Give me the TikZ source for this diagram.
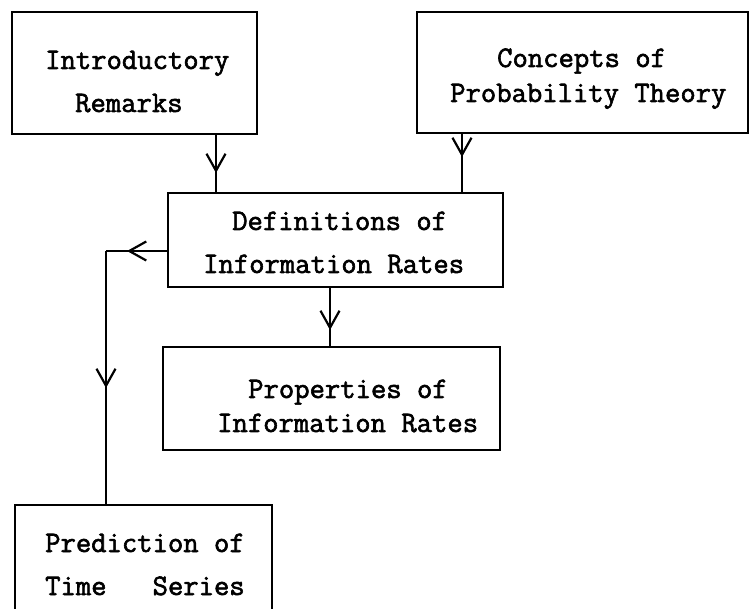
\documentclass[tikz,border=0pt]{standalone}
\usepackage{fontspec}
\setmonofont{Latin Modern Mono}[FakeBold=2]
\usetikzlibrary{arrows.meta,decorations.markings}
\tikzset{
  box/.style={draw, line width=2.2pt, inner sep=0pt, outer sep=0pt, rectangle},
  lbl/.style={anchor=base west, inner sep=0pt, font=\fontsize{29.8}{34}\selectfont\ttfamily},
  conn/.style={line width=2.2pt},
  tipat/.style={postaction={decorate}, decoration={markings,
     mark=at position #1 with {\arrow[line width=2.2pt]{Straight Barb[length=17pt,width=19pt]}}}}
}
\begin{document}
\begin{tikzpicture}[x=1pt,y=-1pt]
\useasboundingbox (0,0) rectangle (750,609);
\clip (0,0) rectangle (750,609);
% boxes
\node[box, minimum width=245pt, minimum height=122pt] (intro) at (134.5,73) {};
\node[box, minimum width=331pt, minimum height=121pt] (concepts) at (582.5,72.5) {};
\node[box, minimum width=335pt, minimum height=94pt] (defs) at (335.5,240) {};
\node[box, minimum width=337pt, minimum height=103pt] (props) at (331.5,398.5) {};
\node[box, minimum width=257pt, minimum height=135pt] (pred) at (143.5,572.5) {};
% texts
\node[lbl] (t1) at (45,69) {Introductory};
\node[lbl] (t2) at (75,112) {Remarks};
\node[lbl] (t3) at (497,67) {Concepts of};
\node[lbl] (t4) at (450,102) {Probability Theory};
\node[lbl] (t5) at (232,230) {Definitions of};
\node[lbl] (t6) at (203,273) {Information Rates};
\node[lbl] (t7) at (248,398) {Properties of};
\node[lbl] (t8) at (217,432) {Information Rates};
\node[lbl] (t9) at (45,552) {Prediction of};
\node[lbl] (t10) at (45,595) {Time~~~Series};
% connectors
\coordinate (c1) at (216,0);
\coordinate (c2) at (462,0);
\coordinate (c3) at (330,0);
\coordinate (c4) at (106,251);
\draw[conn, tipat=39pt] (c1 |- intro.south) -- (c1 |- defs.north);
\draw[conn, tipat=24pt] (c2 |- concepts.south) -- (c2 |- defs.north);
\draw[conn, tipat=43pt] (c3 |- defs.south) -- (c3 |- props.north);
\draw[conn, tipat=41pt] (c4 -| defs.west) -- (c4);
\draw[conn, tipat=137pt] (c4) -- (c4 |- pred.north);
\end{tikzpicture}
\end{document}
